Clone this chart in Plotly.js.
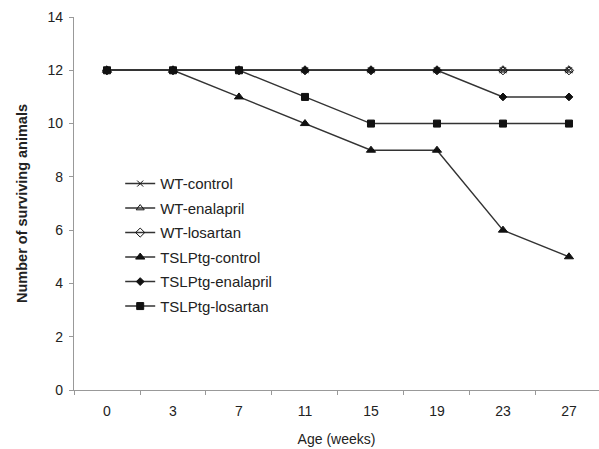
<!DOCTYPE html>
<html>
<head>
<meta charset="utf-8">
<script src="https://cdn.plot.ly/plotly-3.0.1.min.js"></script>
<style>html,body{margin:0;padding:0;background:#fff;}#chart{width:599px;height:449px;}</style>
</head>
<body>
<div id="chart"></div>
<script>
const ages = ["0", "3", "7", "11", "15", "19", "23", "27"];
const wtControl = [12, 12, 12, 12, 12, 12, 12, 12];
const wtEnalapril = [12, 12, 12, 12, 12, 12, 12, 12];
const wtLosartan = [12, 12, 12, 12, 12, 12, 12, 12];
const tgControl = [12, 12, 11, 10, 9, 9, 6, 5];
const tgEnalapril = [12, 12, 12, 12, 12, 12, 11, 11];
const tgLosartan = [12, 12, 12, 11, 10, 10, 10, 10];
const seriesNames = ["WT-control", "WT-enalapril", "WT-losartan", "TSLPtg-control", "TSLPtg-enalapril", "TSLPtg-losartan"];

const lineCol = "#333333";
const markCol = "#111111";
function tr(name, y, symbol, size) {
  return {
    type: "scatter", mode: "lines+markers", name: name, x: ages, y: y,
    legendgroup: name,
    line: {color: lineCol, width: 1.4},
    marker: {symbol: symbol, size: size, color: markCol,
             line: {color: markCol, width: 1}}
  };
}
const data = [
  tr(seriesNames[0], wtControl, "x-thin", 6),
  tr(seriesNames[1], wtEnalapril, "triangle-up-open", 7),
  tr(seriesNames[2], wtLosartan, "diamond-open", 7),
  tr(seriesNames[3], tgControl, "triangle-up", 8),
  tr(seriesNames[4], tgEnalapril, "diamond", 6),
  tr(seriesNames[5], tgLosartan, "square", 7)
];

const layout = {
  width: 599, height: 449,
  margin: {l: 74, r: 0, t: 17, b: 59},
  paper_bgcolor: "#ffffff", plot_bgcolor: "#ffffff",
  font: {family: "Liberation Sans, Arial, sans-serif", size: 14, color: "#222"},
  showlegend: true,
  legend: {x: 0.088, y: 0.597, xanchor: "left", yanchor: "top",
           bgcolor: "rgba(0,0,0,0)", tracegroupgap: 2,
           font: {size: 15, color: "#222"}},
  xaxis: {
    type: "category", range: [-0.5, 7.455],
    showgrid: false, zeroline: false,
    showline: true, linecolor: "#999", linewidth: 1.2,
    ticks: "outside", tickson: "boundaries", ticklen: 4, tickcolor: "#999",
    ticklabelstandoff: 8,
    tickfont: {size: 14, color: "#222"},
    title: {text: "Age (weeks)", font: {size: 14, color: "#222"}, standoff: 16}
  },
  yaxis: {
    range: [0, 14], dtick: 2, tick0: 0,
    showgrid: false, zeroline: false,
    showline: true, linecolor: "#999", linewidth: 1.2,
    ticks: "outside", ticklen: 4, tickcolor: "#999",
    ticklabelstandoff: 3,
    tickfont: {size: 14, color: "#222"},
    title: {text: "<b>Number of surviving animals</b>", font: {size: 14.5, color: "#222"}, standoff: 16}
  }
};
Plotly.newPlot("chart", data, layout, {displayModeBar: false, staticPlot: true});
</script>
</body>
</html>
